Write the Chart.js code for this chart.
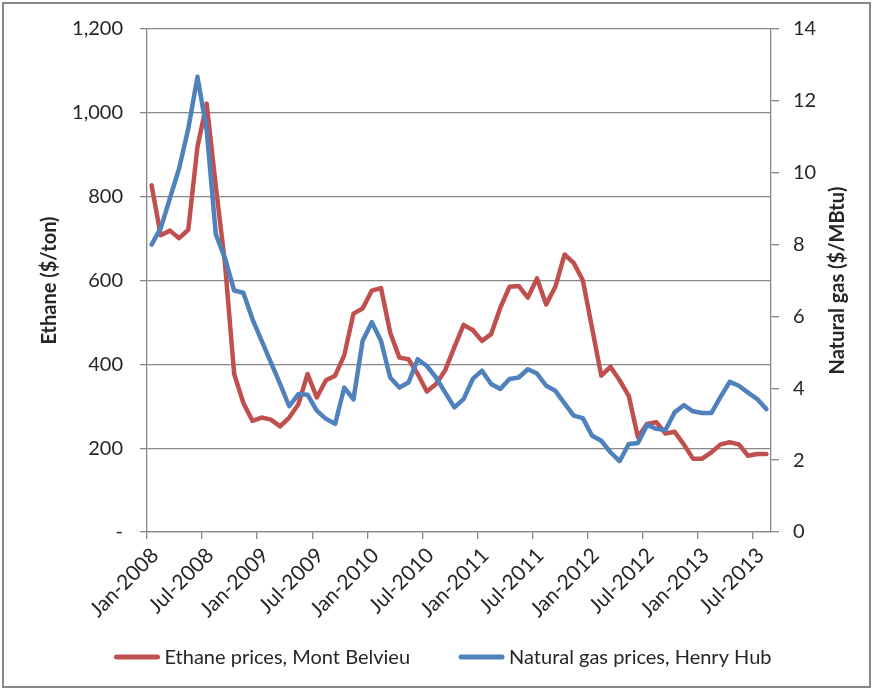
<!DOCTYPE html>
<html>
<head>
<meta charset="utf-8">
<title>Ethane vs natural gas prices</title>
<script src="https://cdn.jsdelivr.net/npm/chart.js@4.4.1/dist/chart.umd.min.js"></script>
<style>
  html, body { margin: 0; padding: 0; background: #fff; }
  canvas { display: block; }
</style>
</head>
<body>
<canvas id="chart" width="876" height="690"></canvas>
<script>
// Monthly series, Jan-2008 .. Aug-2013 (68 months)
const tickLabels = ['Jan-2008', 'Jul-2008', 'Jan-2009', 'Jul-2009', 'Jan-2010', 'Jul-2010',
  'Jan-2011', 'Jul-2011', 'Jan-2012', 'Jul-2012', 'Jan-2013', 'Jul-2013'];

// Ethane, Mont Belvieu ($/ton)
const ethane = [
  827, 708, 719, 701, 721, 919, 1022, 825, 640, 377, 308, 265,
  273, 268, 252, 273, 305, 377, 321, 362, 373, 422, 521, 533,
  576, 582, 476, 416, 412, 377, 335, 353, 386, 441, 494, 482,
  456, 472, 535, 585, 587, 559, 605, 543, 585, 662, 642, 600,
  487, 373, 394, 362, 325, 226, 258, 262, 235, 239, 209, 175,
  175, 190, 209, 214, 209, 182, 186, 186
];

// Natural gas, Henry Hub ($/MBtu)
const gas = [
  8.0, 8.46, 9.29, 10.12, 11.23, 12.67, 11.2, 8.28, 7.62, 6.72, 6.66, 5.92,
  5.32, 4.72, 4.12, 3.50, 3.84, 3.82, 3.38, 3.15, 3.01, 4.02, 3.69, 5.32,
  5.84, 5.32, 4.30, 4.02, 4.16, 4.81, 4.62, 4.30, 3.88, 3.47, 3.70, 4.26,
  4.49, 4.12, 3.98, 4.26, 4.30, 4.53, 4.41, 4.07, 3.93, 3.58, 3.24, 3.17,
  2.68, 2.54, 2.22, 1.97, 2.45, 2.48, 2.98, 2.87, 2.84, 3.33, 3.53, 3.36,
  3.31, 3.31, 3.76, 4.18, 4.07, 3.88, 3.70, 3.42
];

const leftTitle = 'Ethane ($/ton)';
const rightTitle = 'Natural gas ($/MBtu)';

const FONT = 'Lato, "Liberation Sans", sans-serif';
const FS = 20;
const TEXT = '#262626';
const GRID = '#878787';
const RED = '#C0504D';
const BLUE = '#4F81BD';

// point au milieu du mois
const toPoints = arr => arr.map((v, i) => ({ x: i + 0.5, y: v }));

// titres d'axes (les deux lus de bas en haut), légende et cadre
const decor = {
  id: 'decor',
  afterDraw(chart) {
    const { ctx, chartArea } = chart;
    const midY = (chartArea.top + chartArea.bottom) / 2;
    ctx.save();
    ctx.fillStyle = TEXT;
    ctx.textAlign = 'center';
    ctx.textBaseline = 'middle';
    ctx.font = `bold ${FS}px ${FONT}`;
    [[50, leftTitle], [838, rightTitle]].forEach(([x, t]) => {
      ctx.save();
      ctx.translate(x, midY);
      ctx.rotate(-Math.PI / 2);
      ctx.fillText(t, 0, 0);
      ctx.restore();
    });

    ctx.font = `${FS}px ${FONT}`;
    ctx.textAlign = 'left';
    const items = chart.data.datasets.map(d => ({
      label: d.label, color: d.borderColor, w: ctx.measureText(d.label).width
    }));
    const lineW = 45, gap = 5, itemGap = 49;
    const total = items.reduce((s, it) => s + lineW + gap + it.w, 0) + itemGap * (items.length - 1);
    let x = 443 - total / 2;
    const y = 657;
    items.forEach(it => {
      ctx.strokeStyle = it.color;
      ctx.lineWidth = 5;
      ctx.lineCap = 'round';
      ctx.beginPath();
      ctx.moveTo(x + 2, y);
      ctx.lineTo(x + lineW - 2, y);
      ctx.stroke();
      ctx.fillText(it.label, x + lineW + gap, y + 1);
      x += lineW + gap + it.w + itemGap;
    });

    ctx.strokeStyle = GRID;
    ctx.lineWidth = 2;
    ctx.strokeRect(3, 3, 867, 684);
    ctx.restore();
  }
};

const tickFont = { family: FONT, size: FS };

new Chart(document.getElementById('chart').getContext('2d'), {
  type: 'line',
  data: {
    datasets: [
      {
        label: 'Ethane prices, Mont Belvieu', data: toPoints(ethane), yAxisID: 'y',
        borderColor: RED, backgroundColor: RED, order: 1
      },
      {
        label: 'Natural gas prices, Henry Hub', data: toPoints(gas), yAxisID: 'y1',
        borderColor: BLUE, backgroundColor: BLUE, order: 0
      }
    ]
  },
  options: {
    responsive: false,
    animation: false,
    layout: { padding: { top: 27, left: 0, right: 0, bottom: 0 } },
    elements: {
      point: { radius: 0, hoverRadius: 0 },
      line: { borderWidth: 4.5, tension: 0, borderJoinStyle: 'round', borderCapStyle: 'round' }
    },
    plugins: { legend: { display: false }, tooltip: { enabled: false } },
    scales: {
      x: {
        type: 'linear', min: 0, max: 68,
        afterBuildTicks: s => { s.ticks = tickLabels.map((_, k) => ({ value: k * 6 })); },
        afterFit: s => { s.height = 158; },
        grid: { drawOnChartArea: false, tickLength: 7, color: GRID, lineWidth: 1.3 },
        border: { color: GRID, width: 1.3 },
        ticks: {
          autoSkip: false, maxRotation: 45, minRotation: 45, labelOffset: 8, padding: 4,
          font: { family: FONT, size: 21 }, color: TEXT,
          callback: v => tickLabels[Math.round(v / 6)]
        }
      },
      y: {
        position: 'left', min: 0, max: 1200,
        afterFit: s => { s.width = 147; },
        grid: { color: GRID, lineWidth: 1.3, tickLength: 7 },
        border: { color: GRID, width: 1.3 },
        ticks: {
          stepSize: 200, padding: 17, font: tickFont, color: TEXT,
          callback: v => v === 0 ? '-' : v.toLocaleString('en-US')
        }
      },
      y1: {
        position: 'right', min: 0, max: 14,
        afterFit: s => { s.width = 105; },
        grid: { drawOnChartArea: false, color: GRID, lineWidth: 1.3, tickLength: 8 },
        border: { color: GRID, width: 1.3 },
        ticks: { stepSize: 2, padding: 14, font: tickFont, color: TEXT }
      }
    }
  },
  plugins: [decor]
});
</script>
</body>
</html>
